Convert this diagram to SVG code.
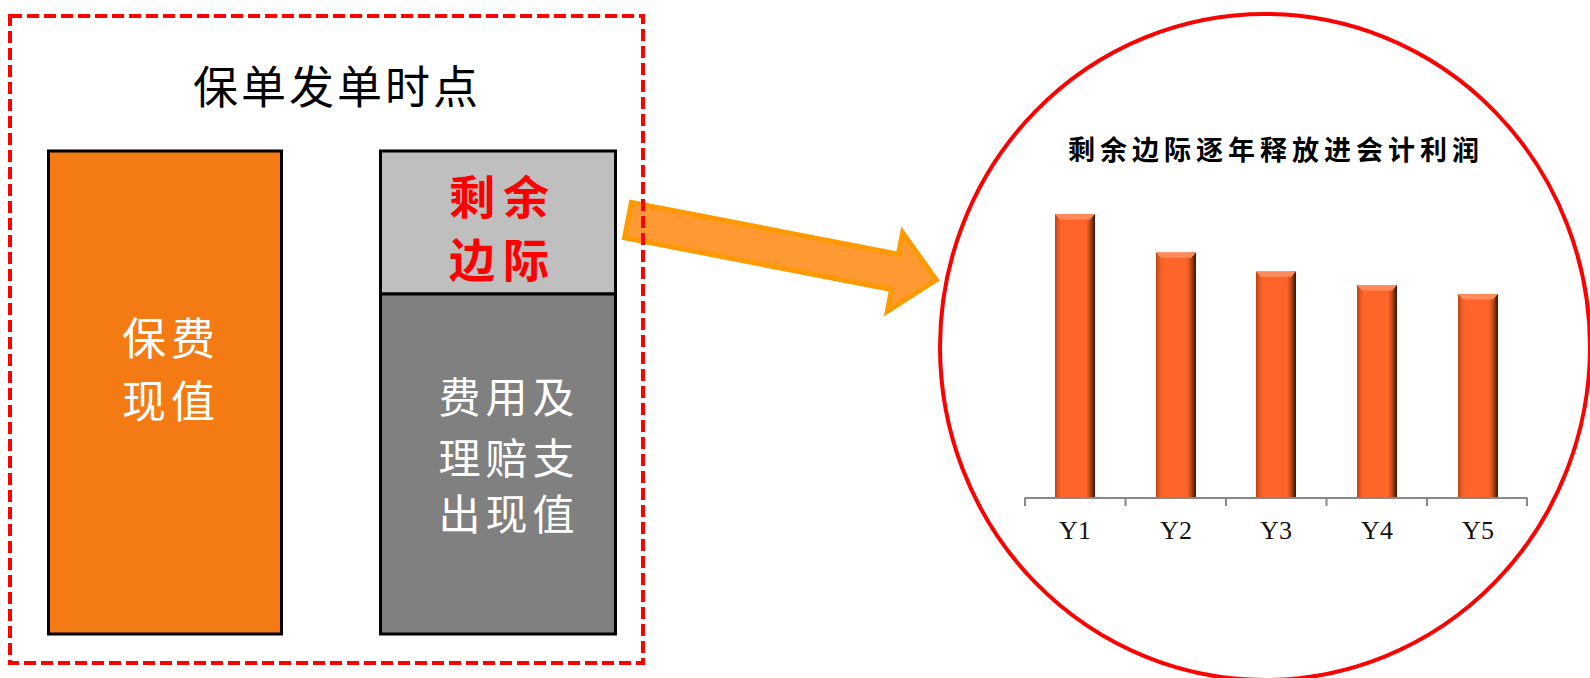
<svg xmlns="http://www.w3.org/2000/svg" width="1590" height="678" viewBox="0 0 1590 678">
  <style>
    .cjk { font-family: "Noto Sans CJK SC", "Noto Sans", sans-serif; dominant-baseline: central; text-anchor: middle; }
    .box { stroke: #000; stroke-width: 3; }
    .axis { stroke: #888888; stroke-width: 2; fill: none; }
    .lbl { font-family: "Liberation Serif", serif; font-size: 26px; fill: #111; text-anchor: middle; }
    .bevel { fill: #FF8A5C; }
  </style>
  <defs>
    <linearGradient id="barGrad" x1="0" y1="0" x2="1" y2="0">
      <stop offset="0" stop-color="#B94418"/>
      <stop offset="0.1" stop-color="#EE5C24"/>
      <stop offset="0.18" stop-color="#FF6428"/>
      <stop offset="0.78" stop-color="#FF6428"/>
      <stop offset="0.88" stop-color="#B8461A"/>
      <stop offset="1" stop-color="#3A1406"/>
    </linearGradient>
  </defs>
  <rect width="1590" height="678" fill="#FFFFFF"/>

  <g id="connectors">
    <polygon transform="translate(628,220) rotate(11)" points="0,-18 272,-18 272,-40 314,0 272,40 272,18 0,18" fill="#FF9933" stroke="#FF9900" stroke-width="5" stroke-linejoin="miter"/>
  </g>

  <g id="issue-frame">
    <rect x="10" y="16" width="633" height="647" fill="none" stroke="#FF0000" stroke-width="4" stroke-dasharray="12 5"/>
    <text class="cjk" x="337" y="84" font-size="45" letter-spacing="3" fill="#000">保单发单时点</text>
  </g>

  <g id="premium-pv">
    <rect class="box" x="48.5" y="151" width="233" height="483" fill="#F47B14"/>
    <text class="cjk" x="171" y="336" font-size="44" letter-spacing="5" fill="#FFFFFF">保费</text>
    <text class="cjk" x="171" y="399" font-size="44" letter-spacing="5" fill="#FFFFFF">现值</text>
  </g>

  <g id="csm">
    <rect class="box" x="380.5" y="151" width="235" height="143" fill="#BFBFBF"/>
    <text class="cjk" x="503" y="194" font-size="46" font-weight="bold" letter-spacing="8" fill="#FF0000">剩余</text>
    <text class="cjk" x="503" y="257" font-size="46" font-weight="bold" letter-spacing="8" fill="#FF0000">边际</text>
  </g>

  <g id="expense-pv">
    <rect class="box" x="380.5" y="294" width="235" height="340" fill="#808080"/>
    <text class="cjk" x="509" y="394" font-size="42" letter-spacing="5" fill="#FFFFFF">费用及</text>
    <text class="cjk" x="509" y="455" font-size="42" letter-spacing="5" fill="#FFFFFF">理赔支</text>
    <text class="cjk" x="509" y="511" font-size="42" letter-spacing="5" fill="#FFFFFF">出现值</text>
  </g>

  <g id="profit-release-chart">
    <ellipse cx="1265" cy="347" rx="325" ry="333" fill="none" stroke="#FF0000" stroke-width="4"/>
    <text class="cjk" x="1276" y="148" font-size="27" font-weight="bold" letter-spacing="5" fill="#000">剩余边际逐年释放进会计利润</text>

    <g id="bars">
      <rect x="1055" y="214" width="40" height="283" fill="url(#barGrad)"/>
      <polygon class="bevel" points="1055,214 1095,214 1090,219.5 1060,219.5"/>
      <rect x="1156" y="252.5" width="40" height="244.5" fill="url(#barGrad)"/>
      <polygon class="bevel" points="1156,252.5 1196,252.5 1191,258 1161,258"/>
      <rect x="1256" y="271.5" width="40" height="225.5" fill="url(#barGrad)"/>
      <polygon class="bevel" points="1256,271.5 1296,271.5 1291,277 1261,277"/>
      <rect x="1357" y="285" width="40" height="212" fill="url(#barGrad)"/>
      <polygon class="bevel" points="1357,285 1397,285 1392,290.5 1362,290.5"/>
      <rect x="1458" y="294" width="40" height="203" fill="url(#barGrad)"/>
      <polygon class="bevel" points="1458,294 1498,294 1493,299.5 1463,299.5"/>
    </g>

    <g id="axis">
      <path class="axis" d="M1025,498 H1527 M1025,497.5 V506 M1125.5,497.5 V506 M1226,497.5 V506 M1326.5,497.5 V506 M1427,497.5 V506 M1527,497.5 V506"/>
    </g>

    <g id="axis-labels">
      <text class="lbl" x="1075" y="539">Y1</text>
      <text class="lbl" x="1176" y="539">Y2</text>
      <text class="lbl" x="1276" y="539">Y3</text>
      <text class="lbl" x="1377" y="539">Y4</text>
      <text class="lbl" x="1478" y="539">Y5</text>
    </g>
  </g>
</svg>
